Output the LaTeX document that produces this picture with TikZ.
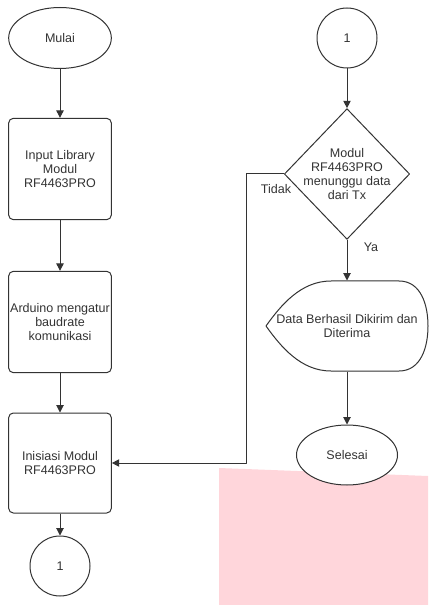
\documentclass[tikz,border=0pt]{standalone}
\usepackage{fontspec}
\setmainfont{Liberation Sans}
\usetikzlibrary{shapes.geometric,arrows.meta,calc}
\definecolor{blush}{RGB}{255,214,219}
\definecolor{ink}{RGB}{51,51,51}

\tikzset{
  term/.style={ellipse, draw, fill=white, minimum width=77pt, minimum height=45.75pt, inner sep=0pt},
  proc/.style={rectangle, rounded corners=3.5pt, draw, fill=white, minimum width=77pt, minimum height=76pt, align=center, inner sep=0.5pt},
  conn/.style={circle, draw, fill=white, minimum size=45pt, inner sep=0pt},
  decision/.style={diamond, draw, fill=white, minimum width=94pt, minimum height=98pt, inner sep=0pt},
  lbl/.style={inner sep=0pt}
}

\begin{document}
\begin{tikzpicture}[x=0.75pt, y=-0.75pt, font=\fontsize{9.4}{10.5}\selectfont, color=ink, line width=0.75pt, line join=round, >={Triangle[length=5.5pt,width=5.5pt]}]
	\useasboundingbox (0,0) rectangle (428,605);
	\fill[blush] (219,468) -- (428,476) -- (428,605) -- (219,605) -- cycle;
	% kolom kiri
	\node[term] (mulai) at (60,38) {Mulai};
	\node[proc] (lib) at (60,169) {Input Library\\Modul\\RF4463PRO};
	\node[proc] (baud) at (60,322) {Arduino mengatur\\baudrate\\komunikasi};
	\node[proc, minimum height=75pt] (init) at (60,463) {Inisiasi Modul\\RF4463PRO};
	\node[conn] (c1) at (60,566) {1};
	% kolom kanan
	\node[conn] (c2) at (347,38) {1};
	\node[decision] (cek) at (347,174) {};
	\node[lbl, align=center] (cektxt) at (cek.center) {Modul\\RF4463PRO\\menunggu data\\dari Tx};
	\node[lbl, minimum width=120.75pt, minimum height=67.5pt, align=center] (hasil) at (347,326) {Data Berhasil Dikirim dan\\Diterima};
	\draw (hasil.west) .. controls ($(hasil.west)+(15,-21)$) and ($(hasil.west)+(35,-45)$) .. ($(hasil.west)+(65,-45)$)
		-- ($(hasil.east)+(-29,-45)$) .. controls ($(hasil.east)+(-7,-45)$) and ($(hasil.east)+(0,-21)$) .. (hasil.east)
		.. controls ($(hasil.east)+(0,21)$) and ($(hasil.east)+(-7,45)$) .. ($(hasil.east)+(-29,45)$)
		-- ($(hasil.west)+(65,45)$) .. controls ($(hasil.west)+(35,45)$) and ($(hasil.west)+(15,21)$) .. (hasil.west) -- cycle;
	\node[term, minimum width=75.75pt, minimum height=45pt] (selesai) at (347,455) {Selesai};
	\coordinate (belok) at (246,174);
	% panah
	\draw[->] (mulai) -- (lib);
	\draw[->] (lib) -- (baud);
	\draw[->] (baud) -- (init);
	\draw[->] (init) -- (c1);
	\draw[->] (c2) -- (cek);
	\draw[->] (cek.south) -- (hasil.north);
	\draw[->] (hasil.south) -- (selesai);
	\draw[->] (cek.west) -- (belok) |- (init.east);
	\node[lbl] (tidak) at (276,189) {Tidak};
	\node[lbl] (ya) at (371,247) {Ya};
\end{tikzpicture}
\end{document}
